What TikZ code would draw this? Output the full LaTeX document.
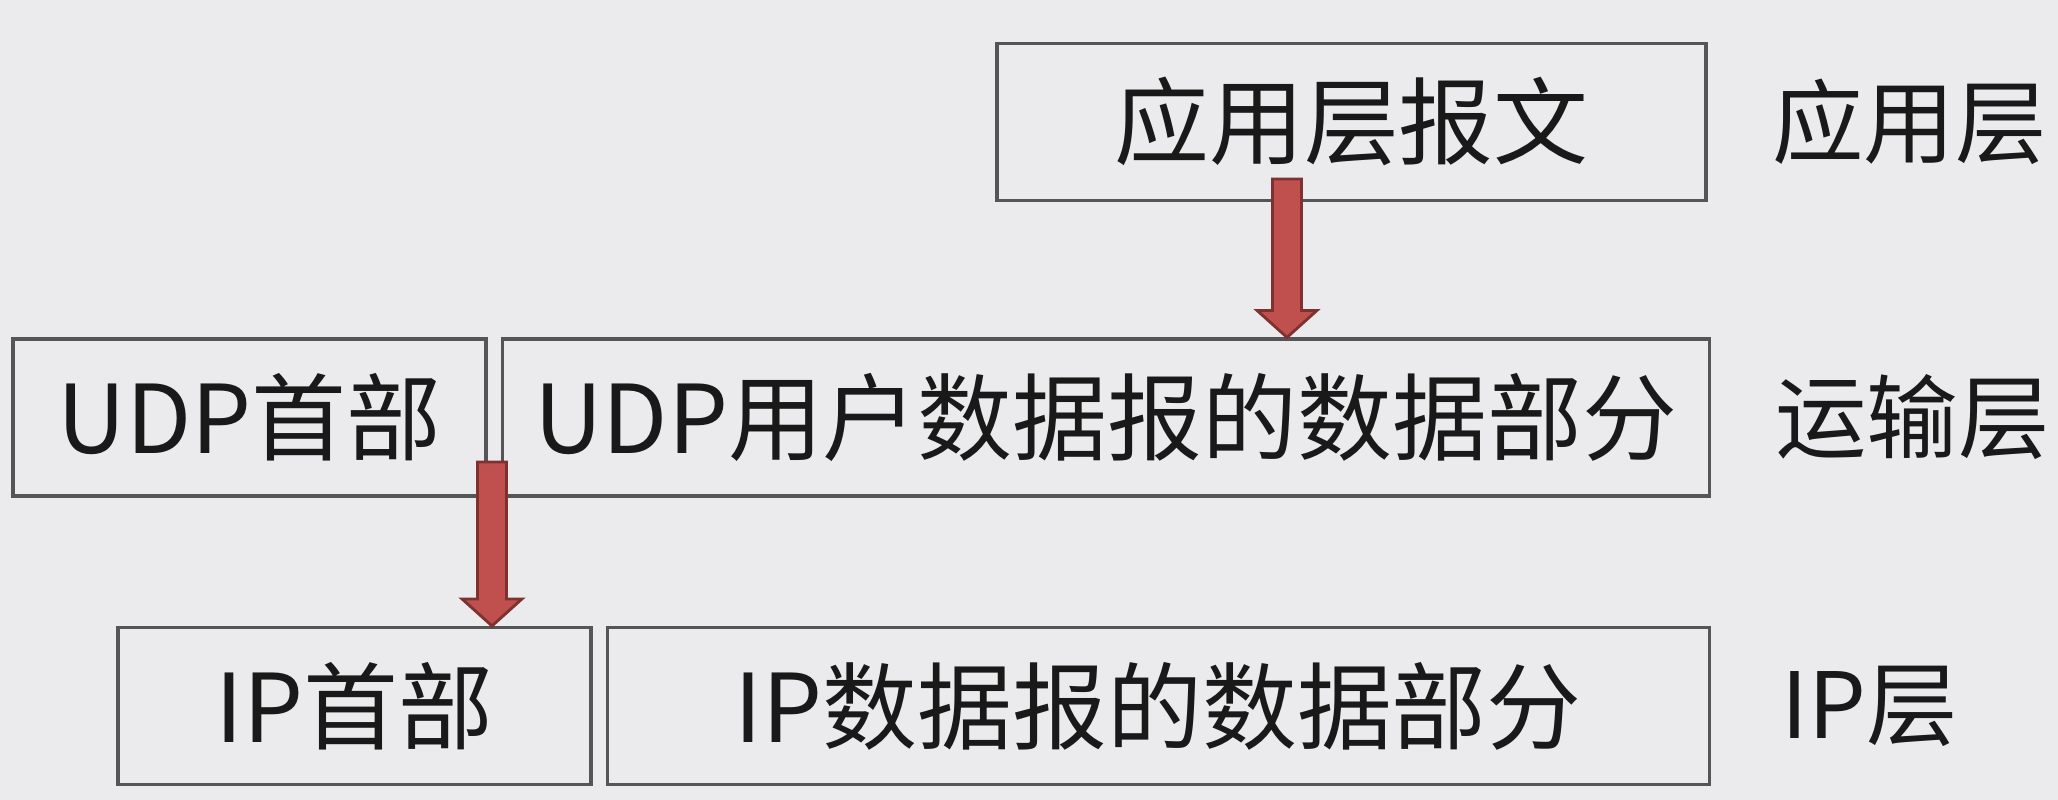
\documentclass[tikz,border=0pt]{standalone}
\usepackage{fontspec}
\newfontfamily\cjk{Noto Sans CJK SC}
\usetikzlibrary{positioning, calc}
\definecolor{bggray}{RGB}{235,235,237}
\definecolor{boxline}{RGB}{85,85,85}
\definecolor{arrowfill}{RGB}{192,80,77}
\definecolor{arrowline}{RGB}{125,50,48}
% block arrow pointing down, from #1 to its tip #2
\newcommand{\blockarrow}[2]{%
  \draw[fat] ($(#1)+(-0.145,0)$) -- ($(#2)+(-0.145,0.27)$) -- ($(#2)+(-0.30,0.27)$)
    -- (#2) -- ($(#2)+(0.30,0.27)$) -- ($(#2)+(0.145,0.27)$) -- ($(#1)+(0.145,0)$) -- cycle;}

\begin{document}
\begin{tikzpicture}[
    every node/.style={font=\cjk\fontsize{27}{32}\selectfont, text=black!90},
    node distance = 0mm and 1.3mm,
    pdu/.style  ={draw=boxline, line width=0.9pt, inner sep=0pt,
                  minimum height=15.7mm},
    layer/.style={anchor=west, inner sep=0pt, font=\cjk\fontsize{26}{30}\selectfont},
    fat/.style  ={draw=arrowline, line width=0.8pt, fill=arrowfill},
]
\useasboundingbox (0,0) rectangle (20.58,8);
\fill[bggray] (0,0) rectangle (20.58,8);
\node[pdu, minimum width=70.9mm] (app) at (13.515,6.78) {应用层报文};
\node[pdu, minimum width=47.3mm] (udphead) at (2.495,3.825) {UDP首部};
\node[pdu, minimum width=120.7mm, right=of udphead] (udpdata) {UDP用户数据报的数据部分};
\node[pdu, minimum width=47.3mm] (iphead) at (3.545,0.94) {IP首部};
\node[pdu, minimum width=110.2mm, right=of iphead] (ipdata) {IP数据报的数据部分};
\node[layer, right=6.4mm of app] (lapp) {应用层};
\node[layer, right=6.4mm of udpdata] (ltrans) {运输层};
\node[layer, right=7.0mm of ipdata] (lip) {IP层};
% encapsulation arrows
\coordinate (a1) at (12.87,6.21);
\coordinate (a2) at (4.92,3.38);
\blockarrow{a1}{a1 |- udpdata.north}
\blockarrow{a2}{a2 |- iphead.north}
\end{tikzpicture}
\end{document}
